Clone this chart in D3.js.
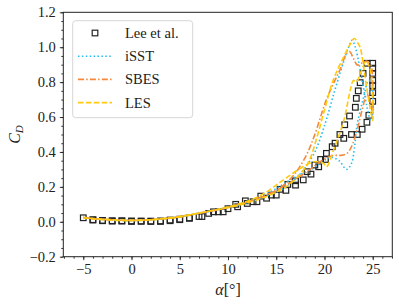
<!DOCTYPE html>
<html lang="en">
<head>
<meta charset="UTF-8">
<title>CD hysteresis</title>
<style>
  body { margin: 0; background: #fff; }
  text { font-family: "Liberation Serif", "Times New Roman", serif; fill: #222; }
</style>
</head>
<body>
<script src="https://cdn.jsdelivr.net/npm/d3@7"></script>
<script>
// tick values
var xTicks = [-5, 0, 5, 10, 15, 20, 25];
var yTicks = [-0.2, 0.0, 0.2, 0.4, 0.6, 0.8, 1.0, 1.2];

// Lee et al. experiment
var leeAlpha = [-5,-4,-3,-2,-1,0,1,2,3,4,5,6,7,8,9,10,11,12,13,14,15,16,17,17.8,18.6,19.4,20.1,20.8,21.6,22.1,22.6,23.2,23.3,23.5,23.7,24.0,24.4,
  25,25,25,25,25,25,25,24.6,24.4,23.9,23.4,22.8,22.0,21.1,20.2,19.6,19.0,18.2,17.0,16.2,15.4,14.5,13.4,12.6,11.8,10.8,9.5,8.5,7.3,6,5,4,3,2,1,0,-1,-2,-3,-4];
var leeCd = [0.023,0.012,0.008,0.006,0.006,0.005,0.003,0.004,0.005,0.010,0.015,0.022,0.030,0.048,0.057,0.075,0.086,0.105,0.115,0.135,0.153,0.180,0.210,0.240,0.273,0.315,0.357,0.430,0.500,0.556,0.606,0.656,0.707,0.750,0.797,0.850,0.908,
  0.908,0.880,0.850,0.810,0.780,0.740,0.690,0.610,0.570,0.530,0.500,0.500,0.478,0.450,0.392,0.357,0.325,0.287,0.235,0.214,0.186,0.153,0.147,0.115,0.120,0.100,0.057,0.057,0.030,0.020,0.012,0.006,0.002,0.002,0.004,0.002,0.004,0.004,0.006,0.010];

// iSST
var isstAlpha = [-5,-4,-3,-2,-1,0,1,2,3,4,5,6,7,8,9,10,11,12,13,14,15,16,17,18,19,20,21,22,22.5,22.85,23.2,23.6,24.0,24.4,24.8,25.0,
  25.0,24.9,24.6,24.0,23.4,23.1,22.8,22.3,21.5,20.6,19.6,18.5,17.1,16,15,14,13,12,11,10,9,8,7,6,5,4,3,2,1,0,-1,-2,-3,-4,-5];
var isstCd = [0.024,0.018,0.013,0.010,0.008,0.007,0.008,0.011,0.015,0.020,0.027,0.037,0.048,0.058,0.069,0.081,0.095,0.110,0.127,0.147,0.170,0.200,0.245,0.310,0.400,0.550,0.740,0.920,1.000,1.040,1.000,0.900,0.780,0.660,0.580,0.620,
  0.720,0.800,0.810,0.700,0.560,0.420,0.335,0.300,0.350,0.370,0.335,0.296,0.260,0.225,0.190,0.160,0.136,0.116,0.099,0.084,0.071,0.060,0.050,0.040,0.030,0.022,0.016,0.012,0.009,0.008,0.009,0.011,0.014,0.018,0.023];

// SBES
var sbesAlpha = [-5,-4,-3,-2,-1,0,1,2,3,4,5,6,7,8,9,10,11,12,13,14,15,16,17,17.5,18.2,19,20.2,21,21.6,22.3,22.6,23.0,23.4,23.9,24.4,24.8,25.0,
  25.0,24.7,24.4,23.9,23.4,22.8,22.3,21.6,20.9,20,19,18,17,16,15,14,13,12,11,10,9,8,7,6,5,4,3,2,1,0,-1,-2,-3,-4,-5];
var sbesCd = [0.025,0.019,0.014,0.011,0.009,0.008,0.009,0.012,0.016,0.021,0.028,0.038,0.049,0.060,0.071,0.083,0.097,0.113,0.131,0.152,0.180,0.220,0.280,0.320,0.390,0.500,0.700,0.800,0.870,0.965,0.975,0.936,0.898,0.910,0.920,0.900,0.800,
  0.620,0.700,0.730,0.640,0.530,0.430,0.390,0.380,0.380,0.360,0.320,0.280,0.245,0.210,0.180,0.155,0.133,0.114,0.097,0.083,0.070,0.059,0.049,0.039,0.030,0.022,0.016,0.012,0.009,0.008,0.009,0.011,0.014,0.018,0.024];

// LES
var lesAlpha = [-5,-4,-3,-2,-1,0,1,2,3,4,5,6,7,8,9,10,11,12,13,14,15,16,17,18,18.5,19.2,19.9,20.9,22,22.7,23.1,23.5,23.7,23.9,24.1,24.4,24.7,25.0,
  24.95,24.7,24.3,23.8,23.3,23.0,22.7,22,21,20.2,19.9,18.9,17.5,16,15,14,13,12,11,10,9,8,7,6,5,4,3,2,1,0,-1,-2,-3,-4,-5];
var lesCd = [0.022,0.016,0.012,0.009,0.007,0.007,0.008,0.011,0.015,0.020,0.027,0.038,0.050,0.060,0.070,0.080,0.093,0.108,0.125,0.145,0.170,0.200,0.245,0.310,0.360,0.480,0.620,0.810,0.946,1.020,1.050,1.020,1.000,0.946,0.870,0.760,0.660,0.580,
  0.750,0.880,0.920,0.860,0.800,0.810,0.760,0.580,0.420,0.315,0.335,0.344,0.306,0.250,0.210,0.170,0.140,0.118,0.100,0.085,0.072,0.060,0.050,0.040,0.031,0.023,0.017,0.012,0.010,0.009,0.010,0.012,0.015,0.019,0.024];

var width = 399, height = 305;
var margin = {left: 63.3, right: 6.7, top: 12.3, bottom: 48.3};
var w = width - margin.left - margin.right;
var h = height - margin.top - margin.bottom;

var svg = d3.select("body").append("svg")
  .attr("width", width).attr("height", height);
var g = svg.append("g").attr("transform", "translate(" + margin.left + "," + margin.top + ")");

var x = d3.scaleLinear().domain([-7.07, 27.03]).range([0, w]);
var y = d3.scaleLinear().domain([-0.2, 1.2]).range([h, 0]);

function fmt(v) { return d3.format(".1f")(v).replace("-", "\u2212"); }

// minor ticks
g.append("g").attr("transform", "translate(0," + h + ")")
  .call(d3.axisBottom(x).tickValues(d3.range(-7, 28, 1)).tickSize(2).tickFormat(""));
g.append("g")
  .call(d3.axisLeft(y).tickValues(d3.range(-0.2, 1.201, 0.05)).tickSize(2).tickFormat(""));

// major ticks
var xa = g.append("g").attr("transform", "translate(0," + h + ")")
  .call(d3.axisBottom(x).tickValues(xTicks).tickSize(3.5).tickPadding(4)
    .tickFormat(function(d) { return String(d).replace("-", "\u2212"); }));
var ya = g.append("g")
  .call(d3.axisLeft(y).tickValues(yTicks).tickSize(3.5).tickPadding(4).tickFormat(fmt));
g.selectAll(".domain").remove();
g.selectAll(".tick line").attr("stroke", "#222").attr("stroke-width", 0.9);
xa.selectAll("text").style("font-size", "14.5px").style("font-family", "Liberation Serif").attr("fill", "#222");
ya.selectAll("text").style("font-size", "14.5px").style("font-family", "Liberation Serif").attr("fill", "#222");

var line = d3.line()
  .x(function(d) { return x(d[0]); })
  .y(function(d) { return y(d[1]); })
  .curve(d3.curveCatmullRom.alpha(0.5));

var series = [
  {name: "iSST", a: isstAlpha, c: isstCd, color: "#22bdf0", dash: "1.5,2.4"},
  {name: "SBES", a: sbesAlpha, c: sbesCd, color: "#f5883a", dash: "6,2.2,1.5,2.2"},
  {name: "LES", a: lesAlpha, c: lesCd, color: "#ffc90e", dash: "5.5,2.4"}
];

var plot = g.append("g");
// squares first, lines on top
plot.selectAll("rect.lee").data(d3.zip(leeAlpha, leeCd)).enter().append("rect")
  .attr("class", "lee")
  .attr("x", function(d) { return x(d[0]) - 2.8; })
  .attr("y", function(d) { return y(d[1]) - 2.8; })
  .attr("width", 5.6).attr("height", 5.6)
  .attr("fill", "none").attr("stroke", "#222").attr("stroke-width", 1.2);

series.forEach(function(s) {
  plot.append("path").datum(d3.zip(s.a, s.c))
    .attr("d", line)
    .attr("fill", "none")
    .attr("stroke", s.color)
    .attr("stroke-width", 1.6)
    .attr("stroke-dasharray", s.dash);
});

// frame
g.append("rect").attr("width", w).attr("height", h)
  .attr("fill", "none").attr("stroke", "#222").attr("stroke-width", 1);

// legend
var lg = svg.append("g");
lg.append("rect").attr("x", 72.7).attr("y", 20.7).attr("width", 120).attr("height", 97)
  .attr("rx", 3).attr("fill", "#fff").attr("fill-opacity", 0.8)
  .attr("stroke", "#d6d6d6").attr("stroke-width", 1);
var ly = [33, 56.2, 79.4, 102.6];
lg.append("rect").attr("x", 95 - 2.8).attr("y", ly[0] - 2.8).attr("width", 5.6).attr("height", 5.6)
  .attr("fill", "none").attr("stroke", "#222").attr("stroke-width", 1.2);
lg.append("text").attr("x", 125).attr("y", ly[0] + 5).style("font-size", "14.5px").text("Lee et al.");
series.forEach(function(s, i) {
  lg.append("line").attr("x1", 78).attr("x2", 112).attr("y1", ly[i + 1]).attr("y2", ly[i + 1])
    .attr("stroke", s.color).attr("stroke-width", 1.6).attr("stroke-dasharray", s.dash);
  lg.append("text").attr("x", 125).attr("y", ly[i + 1] + 5).style("font-size", "14.5px").text(s.name);
});

// axis labels
var yl = svg.append("text").attr("transform", "translate(20,134.5) rotate(-90)")
  .attr("text-anchor", "middle").style("font-size", "16px");
yl.append("tspan").style("font-style", "italic").text("C");
yl.append("tspan").attr("dy", 3).style("font-size", "11px").style("font-style", "italic").text("D");

var xl = svg.append("text").attr("x", 228).attr("y", 295)
  .attr("text-anchor", "middle").style("font-size", "16px");
xl.append("tspan").style("font-style", "italic").text("\u03b1");
xl.append("tspan").text("[\u00b0]");
</script>
</body>
</html>
